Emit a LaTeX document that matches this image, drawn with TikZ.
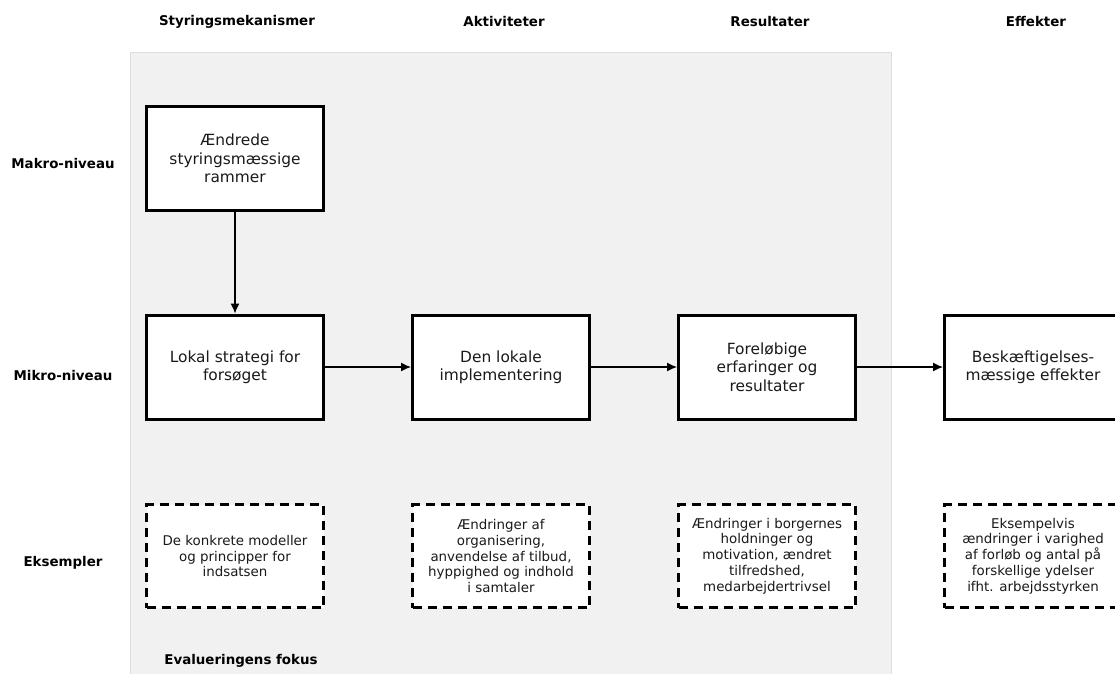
\documentclass[tikz,border=0pt]{standalone}
\usepackage{fontspec}
\setmainfont{DejaVu Sans}
\usetikzlibrary{arrows.meta}
\definecolor{panelfill}{HTML}{F1F1F1}
\definecolor{paneledge}{HTML}{DDDDDD}
\definecolor{txt}{HTML}{1A1A1A}
\begin{document}
\begin{tikzpicture}[x=1pt,y=-1pt,
  hdr/.style={font=\fontsize{13.4}{16}\selectfont\bfseries, text=black, inner sep=0pt},
  mainbox/.style={draw=black, line width=3pt, fill=white, minimum width=177pt, minimum height=104pt,
    align=center, font=\fontsize{15.4}{18.3}\selectfont, text=txt, inner sep=0pt},
  exbox/.style={draw=black, line width=2.6pt, dash pattern=on 9pt off 6pt, fill=white,
    minimum width=177pt, minimum height=103pt, align=center,
    font=\fontsize{13.4}{15.8}\selectfont, text=txt, inner sep=0pt},
  flow/.style={-{Latex[length=10pt,width=9pt]}, line width=1.3pt, draw=black}
]
\useasboundingbox (0,0) rectangle (1115,673);
\clip (0,0) rectangle (1115,673);
\fill[white] (0,0) rectangle (1115,673);
\draw[paneledge, fill=panelfill, line width=1pt] (130.5,52.5) rectangle (891,690);

% column headers
\node[hdr] (h1) at (237,22) {Styringsmekanismer};
\node[hdr] (h2) at (504,22) {Aktiviteter};
\node[hdr] (h3) at (770,22) {Resultater};
\node[hdr] (h4) at (1036,22) {Effekter};

% row labels
\node[hdr] (r1) at (63,163) {Makro-niveau};
\node[hdr] (r2) at (63,375) {Mikro-niveau};
\node[hdr] (r3) at (63,563) {Eksempler};
\node[hdr] (fokus) at (241,661) {Evalueringens fokus};

% main boxes
\node[mainbox] (makro) at (235,158.5) {Ændrede\\styringsmæssige\\rammer};
\node[mainbox] (lokal) at (235,367) {Lokal strategi for\\forsøget};
\node[mainbox] (impl) at (501,367) {Den lokale\\implementering};
\node[mainbox] (forel) at (767,367) {Foreløbige\\erfaringer og\\resultater};
\node[mainbox] (besk) at (1033,367) {Beskæftigelses-\\mæssige effekter};

% example boxes
\node[exbox] (ex1) at (235,556) {De konkrete modeller\\og principper for\\indsatsen};
\node[exbox] (ex2) at (501,556) {Ændringer af\\organisering,\\anvendelse af tilbud,\\hyppighed og indhold\\i samtaler};
\node[exbox] (ex3) at (767,556) {Ændringer i borgernes\\holdninger og\\motivation, ændret\\tilfredshed,\\medarbejdertrivsel};
\node[exbox] (ex4) at (1033,556) {Eksempelvis\\ændringer i varighed\\af forløb og antal på\\forskellige ydelser\\ifht. arbejdsstyrken};

% connectors
\draw[flow] (makro) -- (lokal);
\draw[flow] (lokal) -- (impl);
\draw[flow] (impl) -- (forel);
\draw[flow] (forel) -- (besk);
\end{tikzpicture}
\end{document}
